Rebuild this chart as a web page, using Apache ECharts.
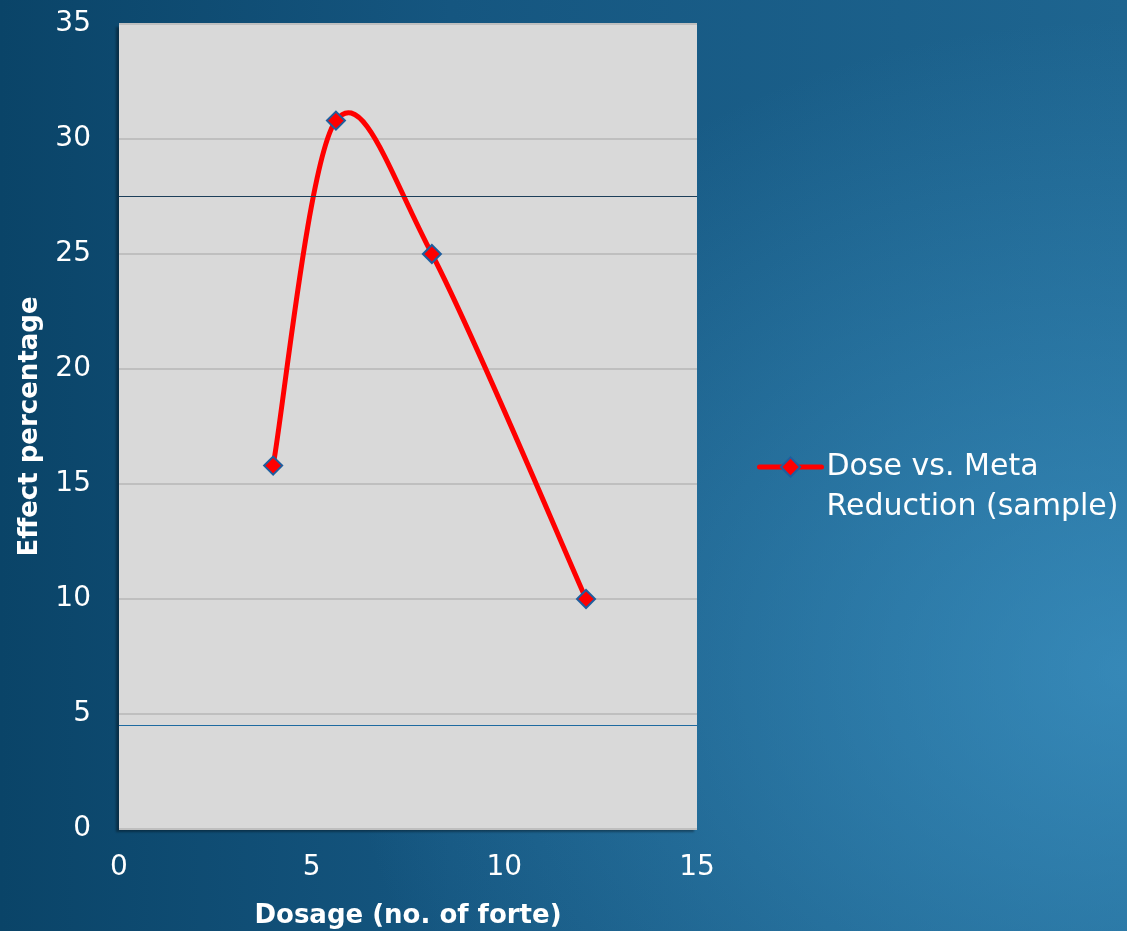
<!DOCTYPE html>
<html>
<head>
<meta charset="utf-8">
<script src="https://cdn.jsdelivr.net/npm/echarts@6/dist/echarts.min.js"></script>
<style>
html,body{margin:0;padding:0;width:1127px;height:931px;overflow:hidden;}
body{background:
 radial-gradient(ellipse 70% 70% at 100% 72%, rgba(70,160,210,0.6) 0%, rgba(70,160,210,0) 100%),
 linear-gradient(to right, #0a4468 0%, #155680 40%, #1e6590 100%);}
#c{width:1127px;height:931px;}
</style>
</head>
<body>
<div id="c"></div>
<script>
const seriesName = 'Dose vs. Meta Reduction (sample)';
const dosage = [4.0, 5.63, 8.12, 12.12];
const effect = [15.8, 30.8, 25.0, 10.0];
const yTicks = [0, 5, 10, 15, 20, 25, 30, 35];
const xTicks = [0, 5, 10, 15];
const extraLines = [27.5, 4.5];

const chart = echarts.init(document.getElementById('c'), null, {renderer: 'canvas'});
const font = '"DejaVu Sans", "Open Sans", sans-serif';

// Smooth curve through the data points (Catmull-Rom style, as in office charts)
function renderCurve(params, api) {
  if (params.dataIndex !== 0) return null;
  const pts = dosage.map((x, i) => api.coord([x, effect[i]]));
  const n = pts.length;
  const path = [['M', pts[0][0], pts[0][1]]];
  for (let i = 0; i < n - 1; i++) {
    const p0 = pts[Math.max(i - 1, 0)], p1 = pts[i], p2 = pts[i + 1], p3 = pts[Math.min(i + 2, n - 1)];
    const c1 = [p1[0] + (p2[0] - p0[0]) / 6, p1[1] + (p2[1] - p0[1]) / 6];
    const c2 = [p2[0] - (p3[0] - p1[0]) / 6, p2[1] - (p3[1] - p1[1]) / 6];
    path.push(['C', c1[0], c1[1], c2[0], c2[1], p2[0], p2[1]]);
  }
  const d = path.map(s => s[0] + s.slice(1).join(',')).join(' ');
  return {
    type: 'path',
    shape: {pathData: d},
    style: {fill: 'none', stroke: '#ff0000', lineWidth: 5, lineCap: 'round', lineJoin: 'round'}
  };
}

chart.setOption({
  backgroundColor: 'transparent',
  animation: false,
  textStyle: {fontFamily: font},
  grid: {
    left: 119, top: 24, right: 430, bottom: 102,
    outerBoundsMode: 'none', containLabel: false,
    show: true, backgroundColor: '#d9d9d9', borderWidth: 0,
    shadowColor: 'rgba(0,0,0,0.35)', shadowBlur: 2, shadowOffsetX: -3, shadowOffsetY: 3
  },
  legend: {
    left: 757, top: 407, padding: 0,
    itemWidth: 62, itemHeight: 24,
    data: [{
      name: seriesName,
      lineStyle: {color: '#ff0000', width: 5, opacity: 1, cap: 'round'},
      itemStyle: {color: '#ff0000', borderColor: '#1f5e9e', borderWidth: 2}
    }],
    formatter: () => '\nDose vs. Meta\nReduction (sample)',
    textStyle: {color: '#fff', fontSize: 30, lineHeight: 40, fontFamily: font}
  },
  xAxis: {
    type: 'value', min: 0, max: 15, interval: 5,
    name: 'Dosage (no. of forte)', nameLocation: 'middle', nameGap: 74,
    nameTextStyle: {color: '#fff', fontSize: 26, fontWeight: 'bold', fontFamily: font},
    axisLine: {show: false}, axisTick: {show: false}, splitLine: {show: false},
    axisLabel: {color: '#fff', fontSize: 28, margin: 25, fontFamily: font,
      formatter: v => xTicks.includes(v) ? String(v) : ''}
  },
  yAxis: {
    type: 'value', min: 0, max: 35, interval: 5,
    name: 'Effect percentage', nameLocation: 'middle', nameGap: 76, nameRotate: 90,
    nameTextStyle: {color: '#fff', fontSize: 26, fontWeight: 'bold', fontFamily: font},
    axisLine: {show: false}, axisTick: {show: false},
    splitLine: {lineStyle: {color: '#bfbfbf', width: 2}},
    axisLabel: {color: '#fff', fontSize: 28, margin: 28, fontFamily: font,
      formatter: v => yTicks.includes(v) ? String(v) : ''}
  },
  series: [{
    type: 'custom',
    name: 'curve',
    data: dosage.map((x, i) => [x, effect[i]]),
    renderItem: renderCurve,
    encode: {x: 0, y: 1},
    silent: true,
    z: 4,
    markLine: {
      silent: true, symbol: 'none', label: {show: false},
      data: [
        {yAxis: extraLines[0], lineStyle: {color: '#1d3f5a', width: 1, type: 'solid'}},
        {yAxis: extraLines[1], lineStyle: {color: '#1e6aa0', width: 1, type: 'solid'}}
      ]
    }
  }, {
    name: seriesName,
    type: 'line',
    data: dosage.map((x, i) => [x, effect[i]]),
    symbol: 'diamond', symbolSize: 18,
    lineStyle: {color: '#ff0000', width: 0, opacity: 0},
    itemStyle: {color: '#ff0000', borderColor: '#1f5e9e', borderWidth: 2},
    z: 5
  }]
});
</script>
</body>
</html>
